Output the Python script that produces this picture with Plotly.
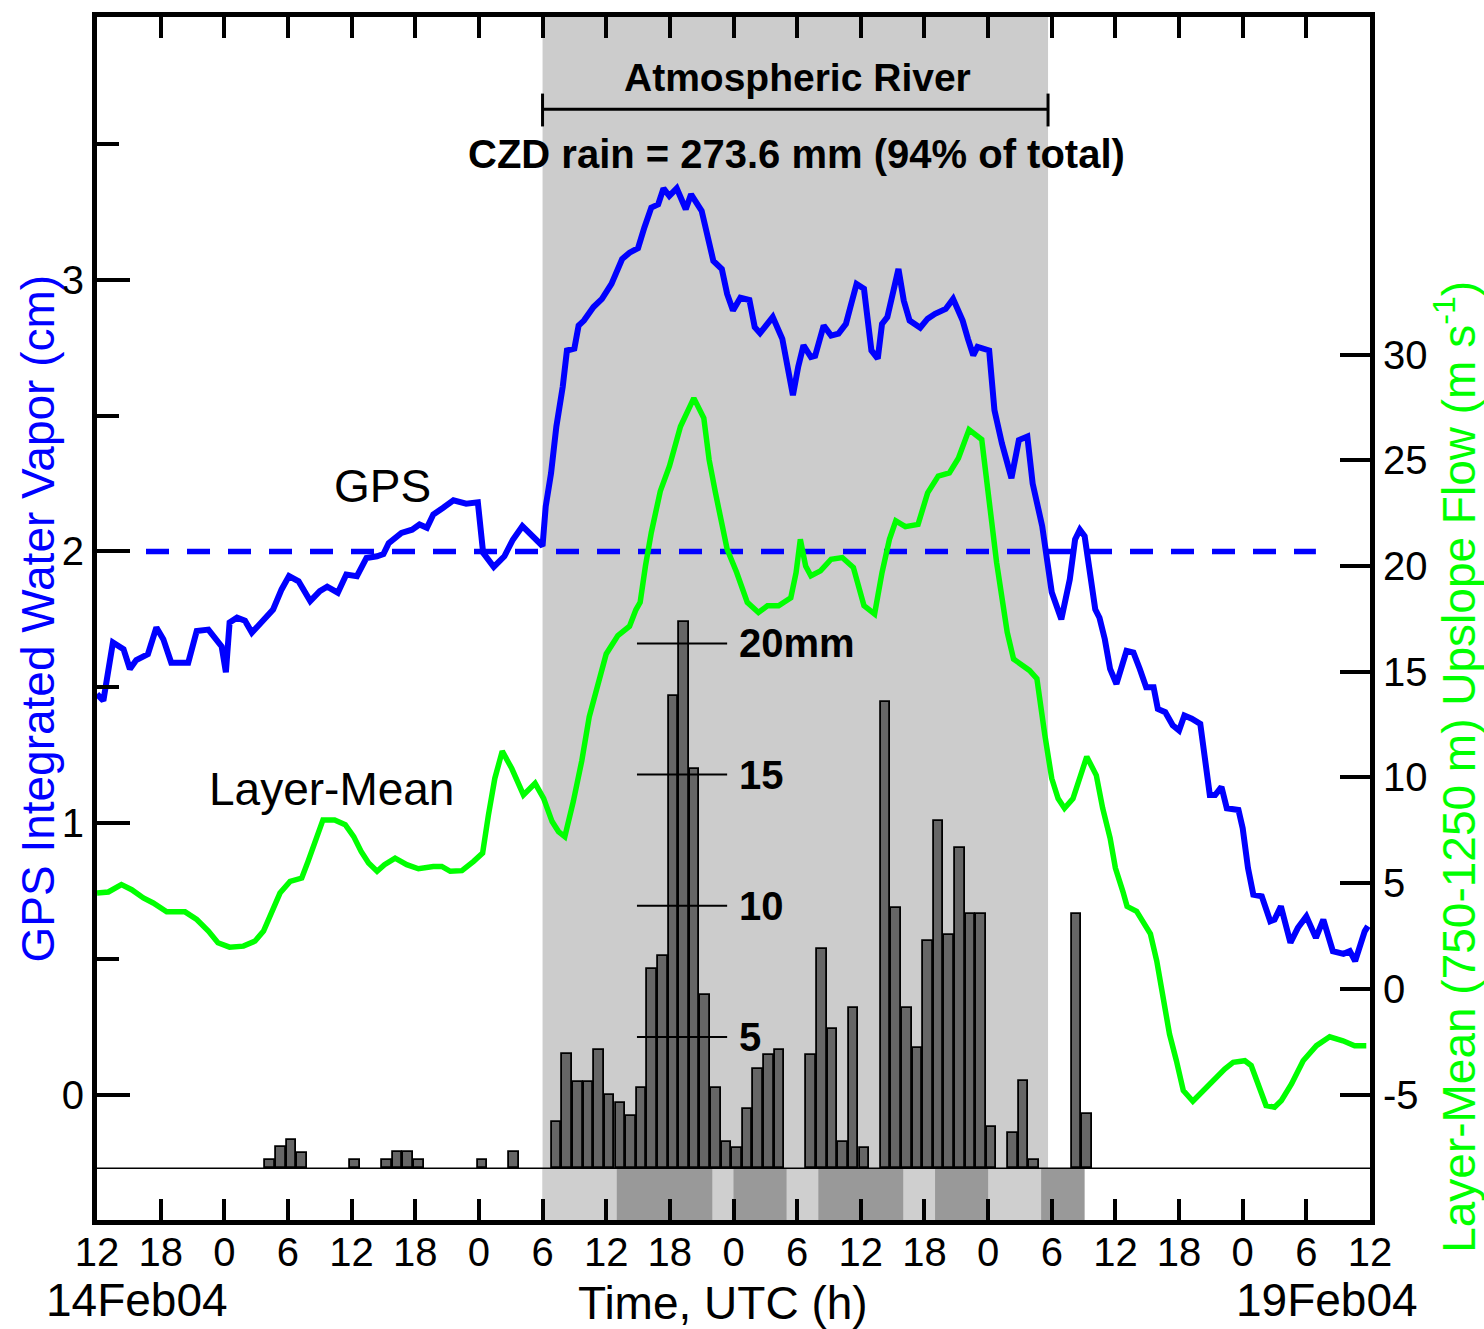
import plotly.graph_objects as go

# ---------------- data (hours after 12 UTC 14 Feb 2004) ----------------
gps_hours = [0.0, 0.6, 1.5, 2.5, 3.1, 3.7, 4.8, 5.6, 6.25, 7.0, 8.6, 9.4, 10.5, 11.3, 11.75, 12.15,
             12.5, 13.2, 13.95, 14.6, 15.8, 16.6, 17.4, 18.1, 19.0, 20.1, 21.0, 21.7, 22.7, 23.5,
             24.5, 25.4, 26.4, 27.0, 27.5, 28.7, 29.7, 30.4, 31.1, 31.7, 32.6, 33.6, 34.8, 35.9,
             36.4, 37.4, 38.4, 39.2, 40.1, 41.4, 42.0, 42.3, 42.8, 43.3, 43.9, 44.3, 45.0, 45.4,
             45.9, 46.8, 47.6, 48.5, 49.5, 50.2, 51.0, 51.6, 52.25, 52.9, 53.4, 53.95, 54.65, 55.5,
             56.0, 57.0, 57.6, 58.1, 58.9, 59.4, 59.95, 60.65, 61.5, 62.0, 62.5, 63.2, 63.7, 64.6,
             65.1, 65.6, 66.1, 66.6, 67.3, 67.7, 68.5, 69.2, 69.9, 70.6, 71.1, 71.6, 72.3, 73.0,
             73.6, 74.0, 74.5, 75.0, 75.55, 76.05, 76.6, 77.6, 78.3, 79.0, 80.0, 80.7, 81.6, 82.1,
             82.6, 83.0, 84.1, 84.6, 85.3, 86.2, 86.9, 87.7, 88.2, 89.1, 90.0, 90.9, 91.7, 92.2,
             92.65, 93.1, 93.6, 94.1, 94.5, 95.0, 95.5, 96.1, 97.05, 97.7, 98.3, 98.9, 99.6, 100.0,
             100.7, 101.4, 102.0, 102.5, 103.2, 104.0, 104.4, 104.9, 105.4, 106.0, 106.5, 107.6,
             108.0, 108.5, 109.0, 109.8, 110.6, 111.0, 111.6, 112.5, 113.2, 114.0, 114.9, 115.6,
             116.5, 117.5, 118.1, 118.6, 119.5, 119.8]
gps_cm = [1.475, 1.45, 1.665, 1.64, 1.567, 1.60, 1.622, 1.72, 1.677, 1.59, 1.59, 1.707, 1.712, 1.667,
          1.65, 1.555, 1.738, 1.756, 1.745, 1.701, 1.75, 1.786, 1.86, 1.909, 1.89, 1.817, 1.854, 1.87,
          1.848, 1.915, 1.909, 1.976, 1.982, 1.99, 2.03, 2.068, 2.08, 2.099, 2.087, 2.136, 2.16, 2.188,
          2.176, 2.181, 1.995, 1.943, 1.982, 2.043, 2.093, 2.038, 2.02, 2.166, 2.288, 2.459, 2.606,
          2.74, 2.747, 2.832, 2.85, 2.90, 2.93, 2.985, 3.077, 3.10, 3.117, 3.193, 3.266, 3.278, 3.337,
          3.309, 3.337, 3.26, 3.315, 3.254, 3.144, 3.07, 3.04, 2.948, 2.887, 2.934, 2.926, 2.826,
          2.804, 2.838, 2.863, 2.783, 2.68, 2.575, 2.68, 2.759, 2.716, 2.72, 2.832, 2.795, 2.802,
          2.838, 2.912, 2.985, 2.967, 2.74, 2.71, 2.838, 2.863, 2.96, 3.04, 2.924, 2.85, 2.824, 2.857,
          2.875, 2.893, 2.93, 2.85, 2.783, 2.722, 2.753, 2.74, 2.52, 2.398, 2.27, 2.41, 2.423, 2.25,
          2.093, 1.85, 1.75, 1.897, 2.044, 2.08, 2.056, 1.934, 1.787, 1.756, 1.677, 1.567, 1.512,
          1.634, 1.628, 1.567, 1.50, 1.50, 1.42, 1.408, 1.36, 1.341, 1.396, 1.384, 1.365, 1.249,
          1.103, 1.103, 1.133, 1.054, 1.048, 0.98, 0.834, 0.736, 0.73, 0.638, 0.644, 0.693, 0.559,
          0.614, 0.656, 0.577, 0.644, 0.528, 0.518, 0.528, 0.491, 0.601, 0.62]

wind_hours = [0.0, 1.07, 2.3, 3.27, 4.37, 5.3, 6.57, 8.3, 9.4, 10.5, 11.4, 12.5, 13.8, 14.9, 15.7,
              16.5, 17.25, 18.2, 19.3, 19.9, 20.7, 21.3, 22.4, 23.4, 24.2, 24.9, 25.6, 26.4, 27.1,
              28.1, 29.2, 30.3, 31.7, 32.5, 33.3, 34.4, 35.5, 36.35, 36.9, 37.5, 38.2, 39.1, 40.2,
              41.3, 42.1, 42.9, 43.5, 44.1, 44.9, 45.7, 46.4, 47.2, 48.0, 49.1, 50.2, 50.8, 51.2,
              51.7, 52.25, 53.1, 53.96, 55.0, 56.26, 57.2, 57.7, 58.3, 58.9, 59.4, 60.3, 61.3, 62.35,
              63.2, 64.25, 65.4, 65.9, 66.3, 66.8, 67.3, 68.2, 69.2, 70.25, 71.3, 72.3, 73.3, 74.0,
              74.7, 75.3, 76.2, 77.4, 78.3, 79.3, 80.35, 81.2, 82.2, 83.4, 84.1, 84.8, 85.8, 86.4,
              87.9, 88.6, 89.35, 90.0, 90.6, 91.2, 92.0, 92.65, 93.3, 94.2, 94.8, 95.5, 96.0, 96.7,
              97.1, 98.0, 98.8, 99.3, 99.9, 100.5, 101.1, 101.75, 102.4, 103.3, 104.3, 105.4, 106.3,
              107.1, 108.2, 108.8, 109.6, 110.2, 111.0, 111.65, 112.6, 113.7, 114.95, 116.2, 117.45,
              118.55, 119.65]
wind_ms = [4.53, 4.58, 4.93, 4.69, 4.3, 4.06, 3.64, 3.64, 3.28, 2.73, 2.18, 1.97, 2.02, 2.26, 2.73,
           3.67, 4.53, 5.08, 5.24, 6.03, 7.2, 7.99, 7.99, 7.76, 7.2, 6.5, 5.95, 5.56, 5.87, 6.18,
           5.87, 5.68, 5.79, 5.79, 5.56, 5.59, 6.03, 6.42, 8.23, 9.95, 11.24, 10.42, 9.17, 9.72,
           9.01, 7.91, 7.44, 7.2, 8.86, 10.79, 12.87, 14.44, 15.84, 16.71, 17.15, 17.93, 18.28,
           20.0, 21.58, 23.54, 24.72, 26.6, 27.94, 27.0, 25.03, 23.46, 21.9, 20.79, 19.69, 18.28,
           17.8, 18.12, 18.12, 18.5, 19.69, 21.26, 20.0, 19.54, 19.77, 20.32, 20.4, 19.93, 18.12,
           17.73, 19.69, 21.26, 22.13, 21.86, 21.97, 23.46, 24.25, 24.4, 25.1, 26.45, 25.98, 22.84,
           20.17, 16.87, 15.6, 15.06, 14.67, 12.0, 9.95, 9.0, 8.54, 9.0, 9.95, 10.98, 10.1, 8.54,
           7.13, 5.71, 4.61, 3.9, 3.67, 3.04, 2.6, 1.31, -0.57, -2.14, -3.4, -4.81, -5.32, -4.81,
           -4.26, -3.79, -3.48, -3.4, -3.63, -4.66, -5.52, -5.6, -5.28, -4.5, -3.4, -2.69, -2.27,
           -2.46, -2.69, -2.69]

rain_hours = [16, 17, 18, 19, 24, 27, 28, 29, 30, 36, 39,
              43, 44, 45, 46, 47, 48, 49, 50, 51, 52, 53, 54, 55, 56, 57, 58, 59, 60, 61, 62, 63, 64,
              67, 68, 69, 70, 71, 72, 74, 75, 76, 77, 78, 79, 80, 81, 82, 83, 84, 86, 87, 88, 92, 93]
rain_mm = [0.3, 0.8, 1.07, 0.57, 0.3, 0.3, 0.6, 0.6, 0.3, 0.3, 0.6,
           1.75, 4.35, 3.3, 3.3, 4.5, 2.8, 2.5, 2.0, 3.05, 7.6, 8.1, 18.0, 20.8, 15.2, 6.6, 3.05,
           1.0, 0.76, 2.27, 3.8, 4.3, 4.5, 4.3, 8.35, 5.3, 1.0, 6.1, 0.76, 17.75, 9.9, 6.1, 4.6,
           8.67, 13.25, 8.9, 12.2, 9.7, 9.7, 1.56, 1.33, 3.33, 0.32, 9.7, 2.06]

ar_period = [42.0, 89.65]
strip_light = [[42, 49], [58, 60], [65, 68], [76, 79], [84, 89]]
strip_dark = [[49, 58], [60, 65], [68, 76], [79, 84], [89, 93.1]]

x_tickvals = list(range(0, 121, 6))
x_ticktext = ["12", "18", "0", "6"] * 5 + ["12"]
gps_ticks = [0, 1, 2, 3]
gps_minor = [0.5, 1.5, 2.5, 3.5]
wind_ticks = [-5, 0, 5, 10, 15, 20, 25, 30]
rain_scale = [5, 10, 15, 20]
rain_scale_text = ["5", "10", "15", "20mm"]
rain_scale_span = [50.9, 59.4]
gps_ref = 2.0
gps_ref_span = [4.62, 114.9]

GPS_RANGE = [-0.462, 3.968]
WIND_RANGE = [-10.935, 45.968]
RAIN_RANGE = [-1.973, 43.87]

FONT = "Arial, Liberation Sans, Helvetica, sans-serif"
BLUE = "#0000ff"
GREEN = "#00ff00"

fig = go.Figure()

fig.add_trace(go.Bar(x=rain_hours, y=rain_mm, yaxis="y3", width=0.9, offset=-0.12,
                     marker=dict(color="#666666", line=dict(color="black", width=1.8)),
                     showlegend=False, hoverinfo="skip"))
fig.add_trace(go.Scatter(x=wind_hours, y=wind_ms, yaxis="y2", mode="lines",
                         line=dict(color=GREEN, width=5.5), showlegend=False))
fig.add_trace(go.Scatter(x=gps_ref_span, y=[gps_ref, gps_ref], yaxis="y", mode="lines",
                         line=dict(color=BLUE, width=5.5, dash="23px,18px"), showlegend=False))
fig.add_trace(go.Scatter(x=gps_hours, y=gps_cm, yaxis="y", mode="lines",
                         line=dict(color=BLUE, width=6), showlegend=False))

shapes = []
shapes.append(dict(type="rect", xref="x", yref="paper", x0=ar_period[0], x1=ar_period[1],
                   y0=0, y1=1, fillcolor="#cccccc", line=dict(width=0), layer="below"))
for a, b in strip_light:
    shapes.append(dict(type="rect", xref="x", yref="y3", x0=a, x1=b, y0=RAIN_RANGE[0], y1=0,
                       fillcolor="#cfcfcf", line=dict(width=0), layer="below"))
for a, b in strip_dark:
    shapes.append(dict(type="rect", xref="x", yref="y3", x0=a, x1=b, y0=RAIN_RANGE[0], y1=0,
                       fillcolor="#999999", line=dict(width=0), layer="below"))
shapes.append(dict(type="line", xref="x", yref="y3", x0=0, x1=120, y0=0, y1=0,
                   line=dict(color="black", width=1.6)))
for v in rain_scale:
    shapes.append(dict(type="line", xref="x", yref="y3", x0=rain_scale_span[0],
                       x1=rain_scale_span[1], y0=v, y1=v, line=dict(color="black", width=2)))
# Atmospheric River bracket
br_y, cap_lo, cap_hi = 3.628, 3.565, 3.686
shapes.append(dict(type="line", xref="x", yref="y", x0=ar_period[0], x1=ar_period[1],
                   y0=br_y, y1=br_y, line=dict(color="black", width=3)))
for xx in ar_period:
    shapes.append(dict(type="line", xref="x", yref="y", x0=xx, x1=xx, y0=cap_lo, y1=cap_hi,
                       line=dict(color="black", width=3)))

annotations = []
for v, t in zip(rain_scale, rain_scale_text):
    annotations.append(dict(x=60.3, y=v, xref="x", yref="y3", text=t, showarrow=False,
                            xanchor="left", yanchor="middle",
                            font=dict(family=FONT, size=40, color="black", weight="bold")))
annotations.append(dict(x=65.99, y=3.745, xref="x", yref="y", text="Atmospheric River",
                        showarrow=False, xanchor="center", yanchor="middle",
                        font=dict(family=FONT, size=39, color="black", weight="bold")))
annotations.append(dict(x=65.9, y=3.462, xref="x", yref="y",
                        text="CZD rain = 273.6 mm (94% of total)",
                        showarrow=False, xanchor="center", yanchor="middle",
                        font=dict(family=FONT, size=40, color="black", weight="bold")))
annotations.append(dict(x=26.87, y=2.241, xref="x", yref="y", text="GPS", showarrow=False,
                        xanchor="center", yanchor="middle",
                        font=dict(family=FONT, size=46, color="black")))
annotations.append(dict(x=22.06, y=1.126, xref="x", yref="y", text="Layer-Mean", showarrow=False,
                        xanchor="center", yanchor="middle",
                        font=dict(family=FONT, size=46, color="black")))
annotations.append(dict(x=3.77, y=-0.0662, xref="x", yref="paper", text="14Feb04",
                        showarrow=False, xanchor="center", yanchor="middle",
                        font=dict(family=FONT, size=46, color="black")))
annotations.append(dict(x=59.0, y=-0.0687, xref="x", yref="paper", text="Time, UTC (h)",
                        showarrow=False, xanchor="center", yanchor="middle",
                        font=dict(family=FONT, size=46, color="black")))
annotations.append(dict(x=115.95, y=-0.0662, xref="x", yref="paper", text="19Feb04",
                        showarrow=False, xanchor="center", yanchor="middle",
                        font=dict(family=FONT, size=46, color="black")))
annotations.append(dict(x=-0.0471, y=0.5, xref="paper", yref="paper",
                        text="GPS Integrated Water Vapor (cm)", textangle=-90,
                        showarrow=False, xanchor="center", yanchor="middle",
                        font=dict(family=FONT, size=46, color=BLUE)))
annotations.append(dict(x=1.0668, y=0.3767, xref="paper", yref="paper",
                        text="Layer-Mean (750-1250 m) Upslope Flow (m s<sup>-1</sup>)",
                        textangle=-90, showarrow=False, xanchor="center", yanchor="middle",
                        font=dict(family=FONT, size=46, color=GREEN)))

fig.update_layout(
    width=1484, height=1329,
    margin=dict(l=97, r=114, t=12, b=109, pad=0),
    paper_bgcolor="white", plot_bgcolor="white",
    bargap=0, showlegend=False,
    font=dict(family=FONT, size=40, color="black"),
    shapes=shapes, annotations=annotations,
    xaxis=dict(range=[0, 120], tickvals=x_tickvals, ticktext=x_ticktext,
               ticks="inside", ticklen=21, tickwidth=4, tickcolor="black",
               showline=True, linewidth=5, linecolor="black", mirror="ticks",
               showgrid=False, zeroline=False, tickfont=dict(size=40, color="black"),
               ticklabelstandoff=-7),
    yaxis=dict(range=GPS_RANGE, tickvals=gps_ticks, ticktext=[str(v) for v in gps_ticks],
               ticks="inside", ticklen=33, tickwidth=4, tickcolor="black",
               showline=True, linewidth=5, linecolor="black",
               showgrid=False, zeroline=False, tickfont=dict(size=40, color="black"),
               minor=dict(tickvals=gps_minor, ticks="inside", ticklen=22, tickwidth=4,
                          tickcolor="black", showgrid=False)),
    yaxis2=dict(range=WIND_RANGE, overlaying="y", side="right", tickvals=wind_ticks,
                ticktext=[str(v) for v in wind_ticks],
                ticks="inside", ticklen=30, tickwidth=4, tickcolor="black",
                showline=True, linewidth=5, linecolor="black",
                showgrid=False, zeroline=False, tickfont=dict(size=40, color="black")),
    yaxis3=dict(range=RAIN_RANGE, overlaying="y", visible=False, showgrid=False,
                zeroline=False),
)

fig.write_html("out.html", config={"displayModeBar": False},
               post_script="document.body.style.margin='0';")
